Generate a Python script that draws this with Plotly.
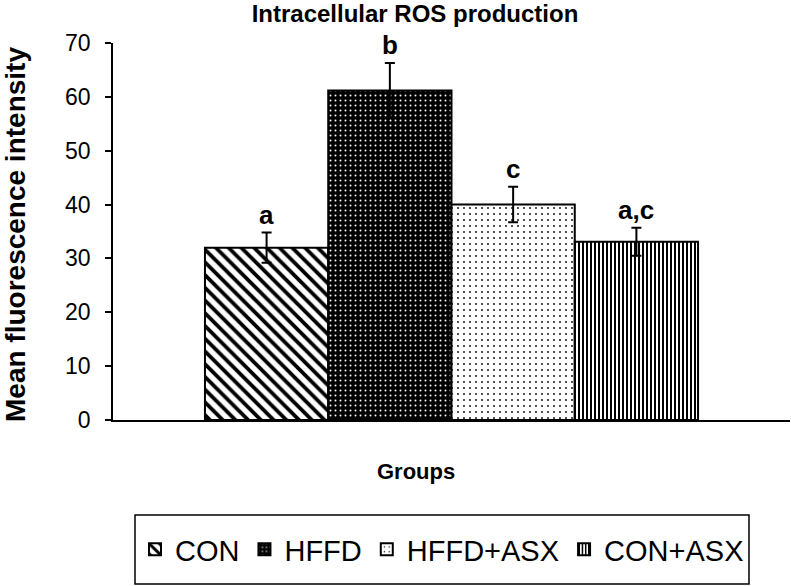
import plotly.graph_objects as go

groups = ["CON", "HFFD", "HFFD+ASX", "CON+ASX"]
means = [32.0, 61.2, 40.0, 33.1]
errors = [2.8, 5.1, 3.3, 2.6]
letters = ["a", "b", "c", "a,c"]
positions = [0, 1, 2, 3]

FONT = "Arial, Liberation Sans, sans-serif"

W, H = 791, 586
L, T, PW, PH = 113, 43, 677, 377

styles = [
    dict(shape="\\", fgcolor="black", bgcolor="white", size=9, solidity=0.42),
    dict(shape=".", fgcolor="white", bgcolor="black", size=5, solidity=0.12),
    dict(shape=".", fgcolor="black", bgcolor="white", size=6, solidity=0.07),
    dict(shape="|", fgcolor="black", bgcolor="white", size=4, solidity=0.5),
]

fig = go.Figure()
for g, m, e, p, st in zip(groups, means, errors, positions, styles):
    fig.add_trace(go.Bar(
        x=[p], y=[m], name=g, width=1,
        marker=dict(color="white", line=dict(color="black", width=2),
                    pattern=dict(fillmode="replace", **st)),
        error_y=dict(type="data", array=[e], visible=True, color="black",
                     thickness=2, width=5),
    ))

for p, m, e, lab in zip(positions, means, errors, letters):
    fig.add_annotation(x=p, y=m + e, text="<b>%s</b>" % lab, showarrow=False,
                       yanchor="bottom", yshift=1,
                       font=dict(family=FONT, size=26, color="black"))

def px(xs):
    return (xs - L) / PW

def py(ys):
    return (T + PH - ys) / PH

fig.add_annotation(xref="paper", yref="paper", x=px(15), y=py(235),
                   text="<b>Mean fluorescence intensity</b>", textangle=-90,
                   showarrow=False, xanchor="center", yanchor="middle",
                   font=dict(family=FONT, size=28, color="black"))
fig.add_annotation(xref="paper", yref="paper", x=px(416), y=py(471),
                   text="<b>Groups</b>", showarrow=False,
                   xanchor="center", yanchor="middle",
                   font=dict(family=FONT, size=22, color="black"))

# legend frame
fig.add_shape(type="rect", xref="paper", yref="paper",
              x0=px(135), x1=px(749), y0=py(515), y1=py(584),
              line=dict(color="black", width=1.5), fillcolor="rgba(0,0,0,0)",
              layer="above")

fig.update_layout(
    width=W, height=H,
    margin=dict(l=L, r=W - L - PW, t=T, b=H - T - PH),
    paper_bgcolor="white", plot_bgcolor="white",
    barmode="overlay",
    title=dict(text="<b>Intracellular ROS production</b>", x=415 / W,
               xanchor="center", y=1 - 14 / H, yanchor="middle",
               font=dict(family=FONT, size=24, color="black")),
    xaxis=dict(range=[-1.246, 4.246], showticklabels=False, ticks="",
               showgrid=False, zeroline=False, showline=True,
               linecolor="black", linewidth=2),
    yaxis=dict(range=[0, 70], dtick=10, ticks="outside", ticklen=6,
               tickcolor="black", tickwidth=1.5, showgrid=False,
               zeroline=False, showline=True, linecolor="black",
               linewidth=1.5, ticklabelstandoff=10,
               tickfont=dict(family=FONT, size=23, color="black")),
    showlegend=True,
    legend=dict(orientation="h", xref="container", yref="container",
                x=442 / W, y=1 - 549.5 / H, xanchor="center",
                yanchor="middle", borderwidth=0,
                bgcolor="rgba(0,0,0,0)",
                font=dict(family=FONT, size=29, color="black"),
                itemwidth=30, traceorder="normal"),
)

fig.write_html("out.html",
               config={"displayModeBar": False},
               post_script="document.body.style.margin='0';"
                           "document.body.style.overflow='hidden';")
